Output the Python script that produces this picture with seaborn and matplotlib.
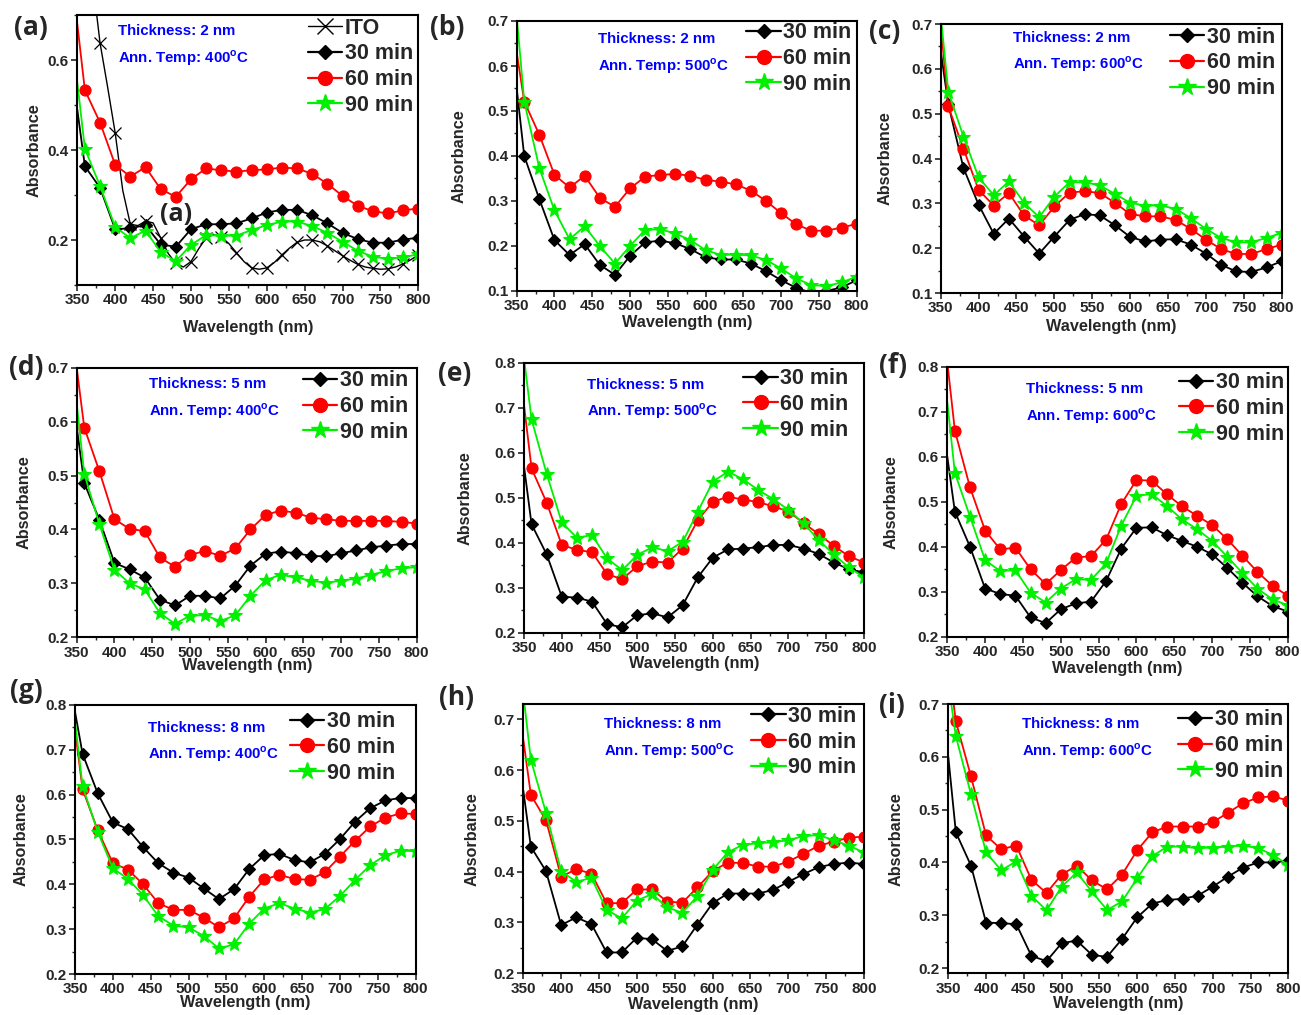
import matplotlib
matplotlib.use("Agg")
import matplotlib.pyplot as plt
from matplotlib.lines import Line2D
from matplotlib.ticker import MultipleLocator, FormatStrFormatter
import seaborn as sns
import numpy as np

# ---------------- data ----------------
wavelength = [350, 360, 380, 400, 420, 440, 460, 480, 500, 520, 540, 560,
              580, 600, 620, 640, 660, 680, 700, 720, 740, 760, 780, 800]

ito_wavelength = list(range(370, 801, 10))
ito = [0.78, 0.638, 0.54, 0.438, 0.31, 0.235, 0.232, 0.242, 0.238, 0.205, 0.17,
       0.148, 0.14, 0.152, 0.18, 0.205, 0.212, 0.207, 0.192, 0.172, 0.152, 0.138,
       0.135, 0.138, 0.15, 0.167, 0.182, 0.195, 0.2, 0.2, 0.196, 0.187, 0.176,
       0.165, 0.155, 0.146, 0.14, 0.137, 0.135, 0.136, 0.14, 0.147, 0.156, 0.167]

a_30 = [0.49, 0.364, 0.316, 0.224, 0.226, 0.233, 0.190, 0.185, 0.224, 0.235, 0.235, 0.237,
        0.248, 0.261, 0.267, 0.267, 0.255, 0.237, 0.216, 0.202, 0.194, 0.194, 0.201, 0.205]
a_60 = [0.68, 0.533, 0.461, 0.367, 0.341, 0.362, 0.313, 0.296, 0.335, 0.359, 0.355, 0.352,
        0.355, 0.357, 0.361, 0.359, 0.347, 0.325, 0.298, 0.276, 0.264, 0.259, 0.266, 0.270]
a_90 = [0.55, 0.403, 0.320, 0.229, 0.204, 0.221, 0.173, 0.153, 0.189, 0.211, 0.209, 0.210,
        0.222, 0.233, 0.241, 0.241, 0.231, 0.216, 0.196, 0.176, 0.163, 0.158, 0.162, 0.168]

b_30 = [0.55, 0.400, 0.304, 0.213, 0.180, 0.204, 0.158, 0.136, 0.178, 0.208, 0.212, 0.206,
        0.193, 0.175, 0.170, 0.170, 0.161, 0.144, 0.124, 0.107, 0.096, 0.100, 0.108, 0.124]
b_60 = [0.63, 0.521, 0.447, 0.358, 0.330, 0.356, 0.307, 0.287, 0.328, 0.354, 0.358, 0.360,
        0.356, 0.347, 0.343, 0.337, 0.323, 0.300, 0.273, 0.248, 0.234, 0.234, 0.241, 0.249]
b_90 = [0.71, 0.521, 0.373, 0.279, 0.215, 0.244, 0.200, 0.161, 0.200, 0.236, 0.237, 0.228,
        0.213, 0.191, 0.180, 0.181, 0.179, 0.169, 0.150, 0.128, 0.113, 0.111, 0.119, 0.132]

c_30 = [0.64, 0.521, 0.379, 0.297, 0.232, 0.266, 0.226, 0.188, 0.226, 0.263, 0.276, 0.273,
        0.251, 0.225, 0.215, 0.219, 0.220, 0.208, 0.188, 0.163, 0.148, 0.147, 0.157, 0.171]
c_60 = [0.70, 0.516, 0.422, 0.330, 0.295, 0.323, 0.273, 0.251, 0.293, 0.324, 0.327, 0.323,
        0.301, 0.276, 0.271, 0.271, 0.263, 0.243, 0.219, 0.198, 0.187, 0.187, 0.198, 0.208]
c_90 = [0.72, 0.549, 0.449, 0.358, 0.318, 0.349, 0.301, 0.269, 0.315, 0.347, 0.347, 0.340,
        0.321, 0.301, 0.295, 0.295, 0.288, 0.267, 0.243, 0.223, 0.213, 0.213, 0.223, 0.234]

d_30 = [0.59, 0.486, 0.418, 0.338, 0.326, 0.311, 0.270, 0.259, 0.277, 0.277, 0.272, 0.296,
        0.333, 0.355, 0.359, 0.356, 0.351, 0.350, 0.356, 0.361, 0.367, 0.370, 0.373, 0.373]
d_60 = [0.70, 0.589, 0.508, 0.419, 0.401, 0.397, 0.348, 0.331, 0.353, 0.360, 0.351, 0.365,
        0.400, 0.427, 0.435, 0.431, 0.422, 0.419, 0.416, 0.416, 0.416, 0.416, 0.414, 0.411]
d_90 = [0.634, 0.503, 0.410, 0.325, 0.300, 0.289, 0.245, 0.225, 0.240, 0.241, 0.230, 0.241,
        0.277, 0.306, 0.316, 0.311, 0.305, 0.301, 0.305, 0.309, 0.316, 0.323, 0.328, 0.330]

e_30 = [0.57, 0.441, 0.374, 0.280, 0.278, 0.269, 0.219, 0.212, 0.239, 0.243, 0.234, 0.261,
        0.323, 0.367, 0.385, 0.387, 0.390, 0.395, 0.395, 0.387, 0.375, 0.356, 0.341, 0.334]
e_60 = [0.706, 0.565, 0.489, 0.395, 0.384, 0.379, 0.330, 0.319, 0.348, 0.358, 0.356, 0.387,
        0.450, 0.491, 0.502, 0.496, 0.490, 0.481, 0.469, 0.444, 0.419, 0.393, 0.370, 0.356]
e_90 = [0.81, 0.674, 0.553, 0.445, 0.411, 0.417, 0.365, 0.339, 0.373, 0.390, 0.381, 0.402,
        0.469, 0.536, 0.558, 0.541, 0.517, 0.497, 0.473, 0.443, 0.406, 0.374, 0.345, 0.323]

f_30 = [0.60, 0.478, 0.400, 0.307, 0.295, 0.291, 0.243, 0.230, 0.261, 0.274, 0.278, 0.324,
        0.396, 0.442, 0.443, 0.426, 0.413, 0.400, 0.383, 0.353, 0.320, 0.290, 0.268, 0.256]
f_60 = [0.81, 0.658, 0.532, 0.436, 0.394, 0.398, 0.350, 0.317, 0.348, 0.376, 0.379, 0.416,
        0.495, 0.548, 0.547, 0.517, 0.490, 0.469, 0.448, 0.417, 0.380, 0.344, 0.313, 0.291]
f_90 = [0.722, 0.564, 0.467, 0.370, 0.346, 0.348, 0.298, 0.276, 0.307, 0.328, 0.326, 0.363,
        0.447, 0.513, 0.517, 0.491, 0.461, 0.439, 0.413, 0.378, 0.342, 0.307, 0.283, 0.270]

g_30 = [0.785, 0.691, 0.603, 0.538, 0.523, 0.483, 0.447, 0.426, 0.415, 0.391, 0.367, 0.389,
        0.434, 0.465, 0.468, 0.454, 0.449, 0.468, 0.501, 0.540, 0.570, 0.587, 0.593, 0.592]
g_60 = [0.745, 0.612, 0.521, 0.447, 0.433, 0.400, 0.358, 0.343, 0.343, 0.326, 0.304, 0.324,
        0.372, 0.411, 0.421, 0.412, 0.410, 0.427, 0.462, 0.497, 0.529, 0.549, 0.558, 0.557]
g_90 = [0.763, 0.619, 0.517, 0.436, 0.412, 0.376, 0.329, 0.308, 0.304, 0.285, 0.257, 0.266,
        0.312, 0.346, 0.358, 0.346, 0.337, 0.345, 0.374, 0.410, 0.443, 0.465, 0.475, 0.474]

h_30 = [0.56, 0.449, 0.401, 0.295, 0.310, 0.297, 0.241, 0.241, 0.270, 0.267, 0.244, 0.253,
        0.296, 0.338, 0.357, 0.357, 0.357, 0.364, 0.380, 0.395, 0.409, 0.415, 0.418, 0.415]
h_60 = [0.66, 0.551, 0.501, 0.390, 0.405, 0.396, 0.338, 0.338, 0.365, 0.365, 0.341, 0.339,
        0.369, 0.401, 0.418, 0.417, 0.410, 0.410, 0.420, 0.435, 0.451, 0.459, 0.467, 0.469]
h_90 = [0.75, 0.620, 0.516, 0.401, 0.380, 0.388, 0.325, 0.308, 0.343, 0.356, 0.330, 0.319,
        0.352, 0.403, 0.438, 0.453, 0.456, 0.458, 0.462, 0.470, 0.472, 0.462, 0.451, 0.438]

i_30 = [0.60, 0.457, 0.394, 0.286, 0.285, 0.283, 0.223, 0.213, 0.247, 0.252, 0.225, 0.221,
        0.255, 0.296, 0.322, 0.329, 0.331, 0.337, 0.354, 0.373, 0.390, 0.400, 0.400, 0.403]
i_60 = [0.78, 0.667, 0.563, 0.451, 0.425, 0.432, 0.367, 0.342, 0.377, 0.394, 0.366, 0.349,
        0.377, 0.423, 0.457, 0.468, 0.468, 0.468, 0.476, 0.494, 0.512, 0.523, 0.525, 0.517]
i_90 = [0.74, 0.639, 0.529, 0.419, 0.385, 0.402, 0.337, 0.309, 0.354, 0.381, 0.345, 0.310,
        0.326, 0.370, 0.412, 0.430, 0.430, 0.427, 0.428, 0.430, 0.432, 0.427, 0.414, 0.395]

series_labels = ["30 min", "60 min", "90 min"]
thickness_text = ["Thickness: 2 nm", "Thickness: 2 nm", "Thickness: 2 nm",
                  "Thickness: 5 nm", "Thickness: 5 nm", "Thickness: 5 nm",
                  "Thickness: 8 nm", "Thickness: 8 nm", "Thickness: 8 nm"]
temps = ["400", "500", "600", "400", "500", "600", "400", "500", "600"]
panel_letters = ["(a)", "(b)", "(c)", "(d)", "(e)", "(f)", "(g)", "(h)", "(i)"]
panel_series = [(a_30, a_60, a_90), (b_30, b_60, b_90), (c_30, c_60, c_90),
                (d_30, d_60, d_90), (e_30, e_60, e_90), (f_30, f_60, f_90),
                (g_30, g_60, g_90), (h_30, h_60, h_90), (i_30, i_60, i_90)]
x_ticks = [350, 400, 450, 500, 550, 600, 650, 700, 750, 800]

# ---------------- style ----------------
sns.set_theme(style="ticks")
plt.rcParams["font.family"] = ["Liberation Sans", "DejaVu Sans"]
plt.rcParams["font.weight"] = "bold"
plt.rcParams["axes.labelweight"] = "bold"
plt.rcParams["mathtext.fontset"] = "custom"
plt.rcParams["mathtext.rm"] = "Liberation Sans:bold"
plt.rcParams["mathtext.bf"] = "Liberation Sans:bold"

W, H = 1301, 1015
fig = plt.figure(figsize=(W / 100, H / 100), dpi=100)

# layout (pixels: left, top, right, bottom)
boxes = [(77.3, 15, 418.3, 285), (516.7, 21, 856.7, 291), (940.7, 24, 1281.7, 293),
         (76.7, 367.7, 416.7, 637.3), (524, 362.7, 864, 632.7), (947.3, 366.7, 1287.7, 636.7),
         (75, 705, 415.7, 974), (523.3, 704, 864, 973.3), (948.3, 704, 1288.3, 973.3)]
ylims = [(0.1, 0.7), (0.1, 0.7), (0.1, 0.7), (0.2, 0.7), (0.2, 0.8), (0.2, 0.8),
         (0.2, 0.8), (0.2, 0.73), (0.19, 0.7)]
ymajor = [0.2, 0.1, 0.1, 0.1, 0.1, 0.1, 0.1, 0.1, 0.1]
yminor = [0.1, 0.05, 0.05, 0.05, 0.05, 0.05, 0.05, 0.05, 0.05]
yticklo = [0.2, 0.1, 0.1, 0.2, 0.2, 0.2, 0.2, 0.2, 0.2]
ann_pos = [(0.119, 0.941, 0.841), (0.238, 0.932, 0.833), (0.211, 0.949, 0.850),
           (0.213, 0.938, 0.839), (0.186, 0.917, 0.819), (0.230, 0.916, 0.817),
           (0.213, 0.916, 0.817), (0.237, 0.925, 0.825), (0.216, 0.925, 0.825)]
leg_pos = [(0.985, 0.99), (0.985, 0.995), (0.98, 0.99), (0.975, 0.99), (0.955, 0.98),
           (0.99, 0.98), (0.94, 0.977), (0.978, 0.993), (0.985, 0.98)]
letter_pos = [(31, 27), (447, 28), (885, 32), (26, 368), (455, 373), (893, 366),
              (26, 690), (456, 698), (892, 706)]
ylabel_dist = [44, 58, 56, 53, 59, 57, 54, 52, 53]
xlabel_dist = [43, 32, 34, 29, 31, 32, 29, 32, 31]

colors = ["black", "#ff0000", "#00f000"]
markers = ["D", "o", "*"]
msizes = [6.0, 8.0, 10.5]

for k in range(9):
    l, t, r, b = boxes[k]
    ax = fig.add_axes([l / W, 1 - b / H, (r - l) / W, (b - t) / H])
    handles = []
    if k == 0:
        sns.lineplot(x=ito_wavelength, y=ito, ax=ax, color="black", lw=1.0,
                     marker="x", ms=8, mew=0.9, mec="black", mfc="black",
                     markevery=slice(1, None, 2), estimator=None, legend=False)
        handles.append(Line2D([], [], color="black", lw=1.0, marker="x", ms=11,
                              mew=1.0, mec="black"))
    for s in range(3):
        sns.lineplot(x=wavelength, y=panel_series[k][s], ax=ax, color=colors[s], lw=1.3,
                     marker=markers[s], ms=msizes[s], mfc=colors[s], mec=colors[s], mew=0.8,
                     markevery=list(range(1, len(wavelength))),
                     estimator=None, legend=False)
        handles.append(Line2D([], [], color=colors[s], lw=1.6, marker=markers[s],
                              ms=msizes[s] * 1.25, mfc=colors[s], mec=colors[s]))
    labels = (["ITO"] if k == 0 else []) + series_labels
    ax.legend(handles=handles, labels=labels, loc="upper right",
              bbox_to_anchor=leg_pos[k], frameon=False, borderpad=0, borderaxespad=0,
              handlelength=1.6, handletextpad=0.12, labelspacing=0.22,
              prop={"family": "Liberation Sans", "weight": "bold", "size": 15.5})

    ax.set_xlim(350, 800)
    ax.set_ylim(*ylims[k])
    ax.set_xticks(x_ticks)
    ax.xaxis.set_minor_locator(MultipleLocator(25))
    ax.set_yticks(np.arange(yticklo[k], ylims[k][1] + 1e-6, ymajor[k]))
    ax.yaxis.set_minor_locator(MultipleLocator(yminor[k]))
    ax.yaxis.set_major_formatter(FormatStrFormatter("%.1f"))
    ax.tick_params(which="major", direction="out", length=4, width=1.2,
                   labelsize=11, pad=2)
    ax.tick_params(which="minor", direction="out", length=2.5, width=1.0)
    for lab in ax.get_xticklabels() + ax.get_yticklabels():
        lab.set_fontweight("bold")
    for sp in ax.spines.values():
        sp.set_visible(True)
        sp.set_linewidth(1.5)
        sp.set_color("black")

    ax.set_xlabel("Wavelength (nm)", fontsize=11.7, fontweight="bold")
    ax.set_ylabel("Absorbance", fontsize=11.7, fontweight="bold")
    ax.xaxis.set_label_coords(0.5, -(xlabel_dist[k] - 8) / (b - t))
    ax.yaxis.set_label_coords(-(ylabel_dist[k] - 8) / (r - l), 0.5)

    ax_x, ty, ay = ann_pos[k]
    ax.text(ax_x, ty, thickness_text[k], transform=ax.transAxes, color="#0000ff",
            fontsize=10.8, fontweight="bold", va="center", ha="left")
    ax.text(ax_x, ay, "Ann. Temp: " + temps[k] + r"$^{\bf o}$C", transform=ax.transAxes,
            color="#0000ff", fontsize=10.8, fontweight="bold", va="center", ha="left")

    lx, ly = letter_pos[k]
    fig.text(lx / W, 1 - ly / H, panel_letters[k], fontsize=19, fontweight="bold",
             family=["Open Sans", "DejaVu Sans"], ha="center", va="center")

    if k == 0:
        ax.text(480, 0.257, "(a)", fontsize=18, fontweight="bold",
                family=["Open Sans", "DejaVu Sans"], ha="center", va="center", color="#222222")

fig.savefig("out.png", dpi=100)
